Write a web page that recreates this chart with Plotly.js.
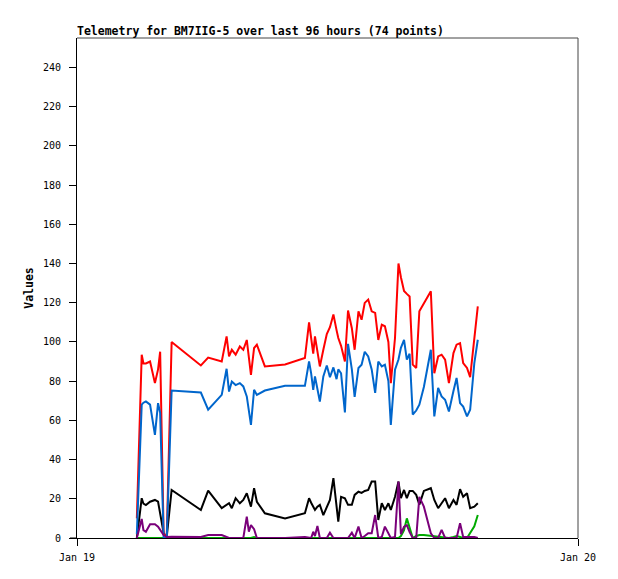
<!DOCTYPE html>
<html>
<head>
<meta charset="utf-8">
<script src="https://cdn.plot.ly/plotly-3.0.1.min.js"></script>
<style>html,body{margin:0;padding:0;background:#fff;}#chart{width:618px;height:579px;}</style>
</head>
<body>
<div id="chart"></div>
<script>
// Times (Jan 19) of each telemetry sample
const times = [
  "02:52","03:06","03:11","03:18","03:30","03:44","03:53","03:59","04:09","04:18",
  "04:32","05:56","06:17","06:56","07:10","07:17","07:25","07:36","07:48","07:58",
  "08:08","08:14","08:20","08:29","08:37","09:00","09:58","10:55","11:07","11:13",
  "11:19","11:24","11:31","11:38","11:48","11:58","12:07","12:17","12:26","12:31",
  "12:39","12:50","12:59","13:10","13:18","13:29","13:38","13:47","13:57","14:07",
  "14:17","14:26","14:36","14:45","14:55","15:02","15:14","15:24","15:31","15:40",
  "15:48","15:56","16:05","16:15","16:24","16:37","16:57","17:07","17:18","17:28",
  "17:38","17:49","18:02","18:11","18:21","18:30","18:41","18:50","19:02","19:12"
];
const redVals = [
  10, 93.5, 89, 89, 90, 79, 86, 95, 2, 1,
  100, 88, 92, 90, 102.8, 92.6, 96, 93.5, 97.7, 96,
  101, 91, 83.2, 96.9, 98.6, 87.5, 88.5, 91.8, 110, 102,
  94, 102.8, 95, 87.5, 96, 104, 107.5, 114, 106, 102,
  98, 90, 116, 107, 96, 115.6, 111.3, 119.9, 121.6, 115.6,
  114.8, 101, 108.8, 108, 100, 79, 102, 140, 133, 126,
  124.5, 123.2, 88.4, 86.7, 115.6, 119.9, 125.8, 84, 92.6, 93.5,
  91, 79, 94.3, 98.6, 99.4, 89.2, 86.7, 82, 100, 118.1
];
const blueVals = [
  2, 68, 69, 69.6, 68, 52.6, 68.8, 63.8, 0, 0,
  75.2, 74.2, 65.4, 73, 86.3, 74.7, 79.8, 78, 79, 77.3,
  72.2, 64.5, 57.7, 75.6, 73, 75.2, 77.6, 77.6, 90, 84,
  75.6, 82.4, 76.5, 69.6, 82.4, 88, 82, 87, 81, 86,
  84, 64, 99, 86, 72, 86.7, 88.4, 95, 92.6, 86,
  74, 90, 87.5, 88.4, 80, 57.7, 85.8, 91, 97, 101,
  91, 94, 63, 65, 68, 77, 96, 62, 76.5, 72.2,
  70.5, 64.5, 75, 81.6, 68.8, 67, 62, 65.4, 89.2, 101.1
];
const blackVals = [
  0, 20.3, 17.5, 16.8, 18.5, 19.4, 18.5, 12.8, 2.5, 0.7,
  24.5, 14.3, 24.2, 15.2, 17, 17.7, 15.2, 20.3, 17.7, 19.4,
  22.8, 19, 16, 25.4, 18.5, 12.6, 10, 12.6, 20.3, 18,
  16, 14.3, 16, 16.9, 11.7, 16, 19.4, 30.5, 15, 8.3,
  21, 20.3, 16.9, 16.9, 22, 23.6, 23, 24, 24.5, 28.8,
  28.8, 9.2, 17.7, 14.3, 17.7, 14.3, 21, 28.8, 20.3, 24.5,
  20.3, 24, 24, 22, 17, 24, 25.4, 19.4, 15.2, 18,
  20.3, 15.2, 19.4, 16.9, 24.9, 21, 22.8, 15.2, 16, 17.7
];
const purpleVals = [
  0, 9.7, 4, 3.2, 7, 7, 5.8, 4, 1.5, 0.5,
  0.7, 0.5, 1.5, 1.5, 0.3, 0, 0, 0, 0, 0,
  10.9, 3.2, 6.6, 4.5, 0, 0, 0, 0.5, 0, 0,
  3.2, 1, 6.1, 0, 0, 0, 2.7, 0, 0, 0,
  0, 0, 0, 2.7, 0, 5.8, 0, 1, 2.4, 2.4,
  11.7, 0, 0.5, 5.8, 2, 0, 0.5, 28.8, 2, 5.8,
  6.6, 3, 0, 0, 21, 16, 2.4, 0, 0, 4.1,
  0, 0, 0, 0, 7.5, 0.5, 0.5, 0.5, 0.5, 0
];
const greenVals = [
  0, 0, 0, 0, 0, 0, 0, 0, 0, 0,
  0, 0, 0, 0, 0, 0, 0, 0, 0, 0,
  0, 0, 0, 0.5, 0, 0, 0, 0, 0, 0,
  0, 0, 0, 0, 0, 0, 0, 0, 0, 0,
  0, 0, 0, 0, 0, 0, 0, 0, 0, 0,
  0, 0, 0, 0, 0, 0, 0, 0, 1, 4,
  10, 5.8, 0, 1, 1.5, 1.5, 1, 1, 0.5, 0.5,
  0, 0, 0.5, 1, 0.5, 0, 0, 2.4, 6, 11.7
];
const dayStart = "2024-01-19";
const dayEnd = "2024-01-20";
const xTickLabels = ["Jan 19", "Jan 20"];

const xs = times.map(t => dayStart + " " + t);
const mono = "DejaVu Sans Mono, monospace";

function series(y, color) {
  return {x: xs, y: y, type: "scatter", mode: "lines",
          line: {color: color, width: 2}, hoverinfo: "skip", showlegend: false};
}

const data = [
  series(greenVals, "#00aa00"),
  series(blackVals, "#000000"),
  series(redVals, "#ff0000"),
  series(blueVals, "#0066cc"),
  series(purpleVals, "#7a007a")
];

const layout = {
  width: 618, height: 579,
  margin: {l: 77, r: 40, t: 38, b: 41, pad: 0},
  paper_bgcolor: "#ffffff", plot_bgcolor: "#ffffff",
  title: {text: "<b>Telemetry for BM7IIG-5 over last 96 hours (74 points)</b>",
          font: {family: mono, size: 11.5, color: "#000"},
          x: 77/618, xanchor: "left", xref: "container",
          y: 1 - 31/579, yanchor: "middle", yref: "container"},
  xaxis: {type: "date", range: [dayStart, dayEnd],
          tickvals: [dayStart, dayEnd], ticktext: xTickLabels,
          ticks: "outside", ticklen: 7, tickcolor: "#000", tickwidth: 1,
          ticklabelstandoff: 3,
          showline: true, linecolor: "#000", linewidth: 1,
          showgrid: false, zeroline: false,
          tickfont: {family: mono, size: 10, color: "#000"}},
  yaxis: {range: [0, 255], tick0: 0, dtick: 20,
          ticks: "outside", ticklen: 7, tickcolor: "#000", tickwidth: 1,
          ticklabelstandoff: 6,
          showline: true, linecolor: "#000", linewidth: 1,
          showgrid: false, zeroline: false,
          tickfont: {family: mono, size: 10, color: "#000"},
          title: {text: "<b>Values</b>", font: {family: mono, size: 11.5, color: "#000"}, standoff: 6}},
  shapes: [
    {type: "line", xref: "paper", yref: "paper", x0: 0, x1: 1, y0: 1, y1: 1, line: {color: "#444", width: 1}},
    {type: "line", xref: "paper", yref: "paper", x0: 1, x1: 1, y0: 0, y1: 1, line: {color: "#444", width: 1}},
    {type: "line", xref: "paper", yref: "paper", x0: -7/501, x1: 0, y0: 0, y1: 0, line: {color: "#000", width: 1}}
  ]
};

Plotly.newPlot("chart", data, layout, {displayModeBar: false, staticPlot: true});
</script>
</body>
</html>
